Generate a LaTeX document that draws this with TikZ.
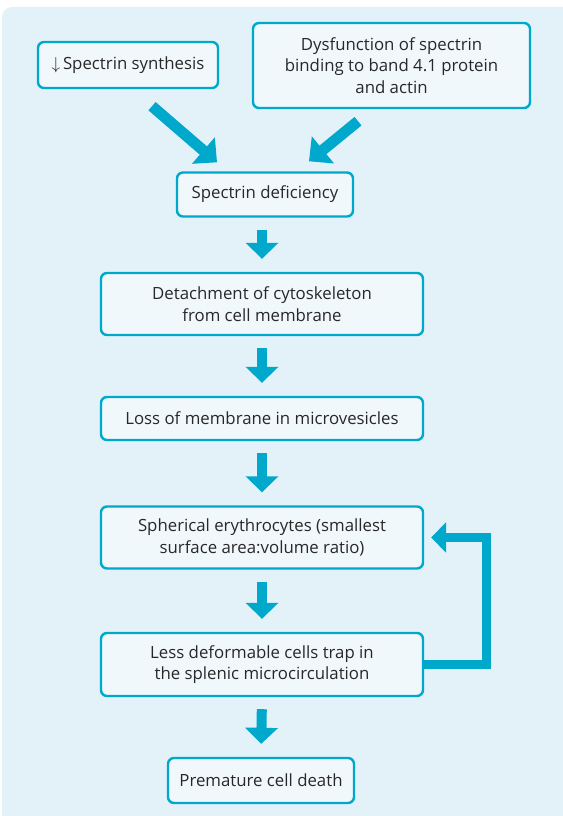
\documentclass[tikz,border=0pt]{standalone}
\usepackage{fontspec}
\setmainfont{Open Sans}
\usetikzlibrary{arrows.meta}
\definecolor{cyanarr}{RGB}{0,168,204}
\definecolor{panelbg}{RGB}{227,242,248}
\definecolor{boxfill}{RGB}{240,248,252}
\definecolor{txt}{RGB}{40,40,40}
\tikzset{
  x=1pt, y=-1pt,
  box/.style={draw=cyanarr, line width=2.4pt, fill=boxfill, rounded corners=6pt,
    align=center, inner sep=0pt, text=txt, font=\fontsize{16.8}{21.5}\selectfont},
  bigarrow/.style={draw=cyanarr, line width=10pt, -{Triangle[width=32pt,length=16pt]},
    shorten <=12pt, shorten >=13pt},
  diagarrow/.style={draw=cyanarr, line width=11pt, -{Triangle[width=34pt,length=18pt]}},
  fbarrow/.style={draw=cyanarr, line width=9.5pt, line join=miter,
    -{Triangle[width=30pt,length=15pt]}}
}
\begin{document}
\begin{tikzpicture}
\useasboundingbox (0,0) rectangle (562,816);
\fill[panelbg, rounded corners=10pt] (2,7) rectangle (600,850);

\node[box, minimum width=180pt, minimum height=46pt] (A) at (128,65) {$\downarrow$\,Spectrin synthesis};
\node[box, minimum width=277pt, minimum height=85pt] (B) at (391.5,65.5) {Dysfunction of spectrin\\binding to band 4.1 protein\\and actin};
\node[box, minimum width=176pt, minimum height=44pt] (C) at (265,194.5) {Spectrin deficiency};
\node[box, minimum width=322pt, minimum height=62pt] (D) at (262,304) {Detachment of cytoskeleton\\from cell membrane};
\node[box, minimum width=322pt, minimum height=43pt] (E) at (262,418.5) {Loss of membrane in microvesicles};
\node[box, minimum width=322pt, minimum height=62pt] (F) at (262,537.5) {Spherical erythrocytes (smallest\\surface area:volume ratio)};
\node[box, minimum width=322pt, minimum height=63pt] (G) at (262,664.5) {Less deformable cells trap in\\the splenic microcirculation};
\node[box, minimum width=186pt, minimum height=45pt] (H) at (261,780.5) {Premature cell death};

\draw[diagarrow] ([shift={(24pt,-17pt)}]A.south) -- ([shift={(-48pt,9pt)}]C.north);
\draw[diagarrow] ([shift={(-33.5pt,-12pt)}]B.south) -- ([shift={(44pt,10pt)}]C.north);

\draw[bigarrow] (C.south -| D.north) -- (D.north);
\draw[bigarrow] (D.south) -- (E.north);
\draw[bigarrow] (E.south) -- (F.north);
\draw[bigarrow] (F.south) -- (G.north);
\draw[bigarrow] (G.south) -- (H.north);

\draw[fbarrow] (G.east) -- ++(62.5,0) |- ([xshift=7pt]F.east);
\end{tikzpicture}
\end{document}
